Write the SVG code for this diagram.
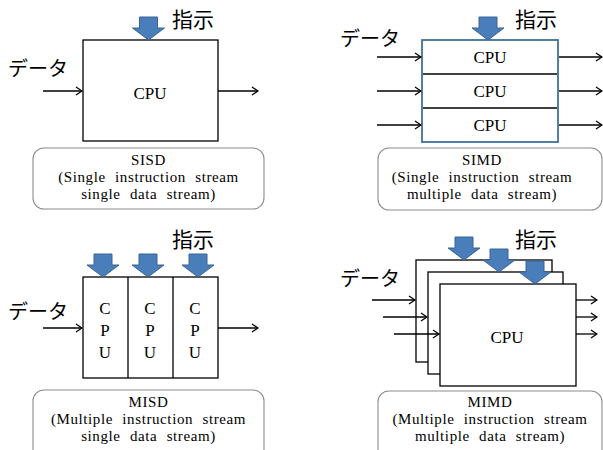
<svg xmlns="http://www.w3.org/2000/svg" width="603" height="450" viewBox="0 0 603 450">
<defs>
<marker id="ah" markerWidth="10" markerHeight="10" refX="9" refY="5" orient="auto" markerUnits="userSpaceOnUse">
<path d="M3,1 L9,5 L3,9" fill="none" stroke="#000" stroke-width="1.3"/>
</marker>
<path id="blue" d="M-9,-23 H9 V-12 H16 L0,0 L-16,-12 H-9 Z"/>
</defs>
<style>
.box{fill:#fff;stroke:#000;stroke-width:1.3}
.bluebox{fill:#fff;stroke:#41719C;stroke-width:1.8}
.div{stroke:#000;stroke-width:1.3}
.lbl{fill:#fff;stroke:#8c8c8c;stroke-width:1.1}
.ar{stroke:#000;stroke-width:1.3;fill:none;marker-end:url(#ah)}
.ins{fill:#4A7EBB;stroke:#3A6494;stroke-width:1}
.en{font-family:"Liberation Serif","Times New Roman",serif;font-size:17px;fill:#000;text-anchor:middle}
.cap{font-family:"Liberation Serif","Times New Roman",serif;font-size:15px;fill:#000;text-anchor:middle;word-spacing:5px;letter-spacing:0.6px}
.jp{font-family:"Noto Sans CJK JP","Noto Sans",sans-serif;font-size:20px;fill:#000}
</style>

<g id="sisd">
<rect class="box" x="83" y="40" width="135" height="101"/>
<text class="en" x="150" y="99">CPU</text>
<use href="#blue" class="ins" x="148.5" y="40"/>
<text class="jp" x="172" y="27" style="font-size:21px">指示</text>
<text class="jp" x="8" y="76">データ</text>
<rect class="lbl" x="33" y="148" width="231" height="61" rx="11"/>
<text class="cap" x="148.5" y="165">SISD</text>
<text class="cap" x="148.5" y="182">(Single instruction stream</text>
<text class="cap" x="148.5" y="199">single data stream)</text>
</g>

<g id="simd">
<rect class="bluebox" x="422" y="40" width="136" height="102"/>
<line class="div" x1="423" y1="74" x2="557" y2="74"/>
<line class="div" x1="423" y1="108" x2="557" y2="108"/>
<text class="en" x="490" y="63">CPU</text>
<text class="en" x="490" y="97">CPU</text>
<text class="en" x="490" y="131">CPU</text>
<use href="#blue" class="ins" x="488" y="40"/>
<text class="jp" x="515" y="27" style="font-size:21px">指示</text>
<text class="jp" x="340" y="46">データ</text>
<rect class="lbl" x="378" y="148" width="224" height="62" rx="11"/>
<text class="cap" x="482" y="165">SIMD</text>
<text class="cap" x="482" y="182">(Single instruction stream</text>
<text class="cap" x="482" y="199">multiple data stream)</text>
</g>

<g id="misd">
<rect class="box" x="83" y="277" width="135" height="101"/>
<line class="div" x1="128" y1="277" x2="128" y2="378"/>
<line class="div" x1="173" y1="277" x2="173" y2="378"/>
<text class="en" x="105" y="314">C</text>
<text class="en" x="105" y="336">P</text>
<text class="en" x="105" y="358">U</text>
<text class="en" x="150" y="314">C</text>
<text class="en" x="150" y="336">P</text>
<text class="en" x="150" y="358">U</text>
<text class="en" x="195" y="314">C</text>
<text class="en" x="195" y="336">P</text>
<text class="en" x="195" y="358">U</text>
<use href="#blue" class="ins" x="103" y="277"/>
<use href="#blue" class="ins" x="148" y="277"/>
<use href="#blue" class="ins" x="198" y="277"/>
<text class="jp" x="172" y="247" style="font-size:21px">指示</text>
<text class="jp" x="8" y="319">データ</text>
<rect class="lbl" x="33" y="390" width="231" height="70" rx="11"/>
<text class="cap" x="148.5" y="407">MISD</text>
<text class="cap" x="148.5" y="424">(Multiple instruction stream</text>
<text class="cap" x="148.5" y="441">single data stream)</text>
</g>

<g id="mimd">
<rect class="box" x="416" y="260" width="136" height="102"/>
<rect class="box" x="428" y="272" width="135" height="102"/>
<rect class="box" x="440" y="284" width="136" height="102"/>
<text class="en" x="507" y="343">CPU</text>
<use href="#blue" class="ins" x="464" y="260"/>
<use href="#blue" class="ins" x="499" y="272"/>
<use href="#blue" class="ins" x="535" y="284"/>
<text class="jp" x="515" y="247" style="font-size:21px">指示</text>
<text class="jp" x="340" y="286">データ</text>
<rect class="lbl" x="378" y="391" width="224" height="70" rx="11"/>
<text class="cap" x="490" y="407">MIMD</text>
<text class="cap" x="490" y="424">(Multiple instruction stream</text>
<text class="cap" x="490" y="441">multiple data stream)</text>
</g>

<g id="connectors">
<line class="ar" x1="43" y1="91" x2="82" y2="91"/>
<line class="ar" x1="218" y1="91" x2="258" y2="91"/>
<line class="ar" x1="377" y1="57" x2="421" y2="57"/>
<line class="ar" x1="377" y1="91" x2="421" y2="91"/>
<line class="ar" x1="377" y1="125" x2="421" y2="125"/>
<line class="ar" x1="559" y1="57" x2="602" y2="57"/>
<line class="ar" x1="559" y1="91" x2="602" y2="91"/>
<line class="ar" x1="559" y1="125" x2="602" y2="125"/>
<line class="ar" x1="43" y1="328" x2="82" y2="328"/>
<line class="ar" x1="218" y1="328" x2="258" y2="328"/>
<line class="ar" x1="372" y1="300" x2="415" y2="300"/>
<line class="ar" x1="383" y1="317" x2="427" y2="317"/>
<line class="ar" x1="394" y1="334" x2="439" y2="334"/>
<line class="ar" x1="576" y1="300" x2="597" y2="300"/>
<line class="ar" x1="576" y1="317" x2="597" y2="317"/>
<line class="ar" x1="576" y1="334" x2="597" y2="334"/>
</g>
</svg>
